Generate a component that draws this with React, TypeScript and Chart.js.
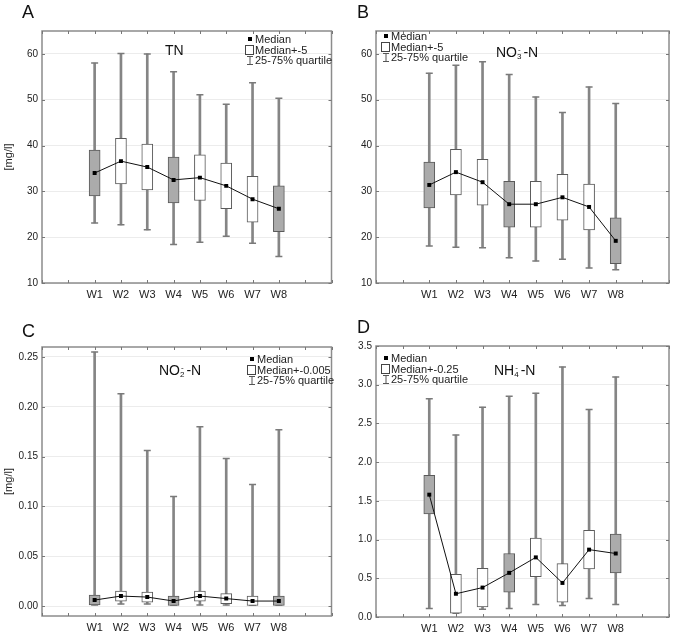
import React, { useEffect, useRef } from 'react';
import { Chart, registerables } from 'chart.js';

Chart.register(...registerables);

// ---------- data ----------
const categories = ['W1', 'W2', 'W3', 'W4', 'W5', 'W6', 'W7', 'W8'];
const shadedBoxes = [true, false, false, true, false, false, false, true];

// A: TN
const tnMedian = [34.0, 36.6, 35.3, 32.5, 33.0, 31.2, 28.3, 26.2];
const tnLow = [23.1, 22.7, 21.6, 18.4, 18.9, 20.2, 18.7, 15.8];
const tnHigh = [58.0, 60.1, 60.0, 56.1, 51.1, 49.0, 53.7, 50.3];
const tnHalfBox = 5;
const tnTicks = [10, 20, 30, 40, 50, 60];

// B: NO3-N
const no3Median = [31.4, 34.2, 32.0, 27.2, 27.2, 28.7, 26.6, 19.2];
const no3Low = [18.1, 17.8, 17.7, 15.5, 14.8, 15.2, 13.3, 12.9];
const no3High = [55.8, 57.5, 58.3, 55.5, 50.6, 47.2, 52.8, 49.2];
const no3HalfBox = 5;
const no3Ticks = [10, 20, 30, 40, 50, 60];

// C: NO2-N
const no2Median = [0.006, 0.010, 0.009, 0.005, 0.010, 0.0075, 0.005, 0.005];
const no2Low = [0.001, 0.002, 0.002, 0.001, 0.001, 0.001, 0.001, 0.001];
const no2High = [0.255, 0.213, 0.156, 0.110, 0.180, 0.148, 0.122, 0.177];
const no2HalfBox = 0.005;
const no2Ticks = [0, 0.05, 0.1, 0.15, 0.2, 0.25];

// D: NH4-N
const nh4Median = [1.58, 0.30, 0.38, 0.57, 0.77, 0.44, 0.87, 0.82];
const nh4Low = [0.11, 0.05, 0.10, 0.11, 0.16, 0.15, 0.24, 0.16];
const nh4High = [2.82, 2.35, 2.71, 2.85, 2.89, 3.23, 2.68, 3.10];
const nh4HalfBox = 0.25;
const nh4Ticks = [0, 0.5, 1.0, 1.5, 2.0, 2.5, 3.0, 3.5];

// ---------- helpers ----------
const pad = (arr: any[]) => [null, null, ...arr, null, null];
const xLabels = pad(categories).map((c) => (c === null ? '' : c));

const TEXT = '#222';
const FONT = 'Arial, "Liberation Sans", Helvetica, sans-serif';

const framePlugin = {
  id: 'frame',
  afterDraw(chart: any) {
    const { ctx, chartArea } = chart;
    const { left, right, top, bottom } = chartArea;
    const x = chart.scales.x;
    const y = chart.scales.y;
    ctx.save();
    ctx.strokeStyle = '#8c8c8c';
    ctx.lineWidth = 1.5;
    ctx.strokeRect(left, top, right - left, bottom - top);
    ctx.lineWidth = 1;
    ctx.strokeStyle = '#777';
    ctx.beginPath();
    x.ticks.forEach((_t: any, i: number) => {
      const px = Math.round(x.getPixelForTick(i)) + 0.5;
      ctx.moveTo(px, bottom);
      ctx.lineTo(px, bottom - 3);
      ctx.moveTo(px, top);
      ctx.lineTo(px, top + 3);
    });
    y.ticks.forEach((_t: any, i: number) => {
      const py = Math.round(y.getPixelForTick(i)) + 0.5;
      ctx.moveTo(left, py);
      ctx.lineTo(left + 3, py);
      ctx.moveTo(right, py);
      ctx.lineTo(right - 3, py);
    });
    ctx.stroke();
    ctx.restore();
  },
};

type PanelProps = {
  median: number[];
  low: number[];
  high: number[];
  half: number;
  ticks: number[];
  yMin: number;
  yMax: number;
  decimals: number;
  yTitle?: string;
  width: number;
  height: number;
  padTop: number;
  padRight: number;
  yAxisW: number;
  xAxisH: number;
};

function Panel(p: PanelProps) {
  const ref = useRef<HTMLCanvasElement | null>(null);
  useEffect(() => {
    if (!ref.current) return;
    const boxes = p.median.map((m) => [m - p.half, m + p.half]);
    const whiskers = p.low.map((l, i) => [l, p.high[i]]);
    const chart = new Chart(ref.current, {
      type: 'bar',
      data: {
        labels: xLabels,
        datasets: [
          {
            type: 'line',
            data: pad(p.median),
            borderColor: '#111',
            borderWidth: 1,
            pointStyle: 'rect',
            pointRadius: 2.8,
            pointBackgroundColor: '#000',
            pointBorderColor: '#000',
            pointBorderWidth: 0,
            spanGaps: false,
            order: 1,
          } as any,
          {
            type: 'bar',
            data: pad(boxes),
            backgroundColor: pad(shadedBoxes).map((s) => (s ? '#ababab' : '#ffffff')),
            borderColor: '#5a5a5a',
            borderWidth: 1,
            borderSkipped: false,
            barThickness: 11,
            grouped: false,
            order: 2,
          } as any,
          {
            type: 'line',
            data: pad(p.high),
            showLine: false,
            pointStyle: 'line',
            pointRadius: 3.5,
            pointBorderColor: '#7a7a7a',
            pointBorderWidth: 1.5,
            order: 3,
          } as any,
          {
            type: 'line',
            data: pad(p.low),
            showLine: false,
            pointStyle: 'line',
            pointRadius: 3.5,
            pointBorderColor: '#7a7a7a',
            pointBorderWidth: 1.5,
            order: 3,
          } as any,
          {
            type: 'bar',
            data: pad(whiskers),
            backgroundColor: '#858585',
            borderWidth: 0,
            barThickness: 2,
            grouped: false,
            order: 4,
          } as any,
        ],
      },
      options: {
        animation: false,
        responsive: false,
        maintainAspectRatio: false,
        layout: { padding: { top: p.padTop, right: p.padRight, left: 0, bottom: 0 } },
        plugins: { legend: { display: false }, tooltip: { enabled: false } },
        scales: {
          x: {
            type: 'category',
            offset: false,
            grid: { display: false, drawTicks: false },
            border: { display: false },
            ticks: {
              autoSkip: false,
              maxRotation: 0,
              padding: 5,
              color: TEXT,
              font: { family: FONT, size: 11 },
            },
            afterFit: (s: any) => {
              s.height = p.xAxisH;
            },
          },
          y: {
            type: 'linear',
            min: p.yMin,
            max: p.yMax,
            grid: { color: '#ececec', drawTicks: false, lineWidth: 1 },
            border: { display: false },
            ticks: {
              padding: 4,
              color: TEXT,
              font: { family: FONT, size: 10 },
              callback: (v: any) => Number(v).toFixed(p.decimals),
            },
            afterBuildTicks: (s: any) => {
              s.ticks = p.ticks.map((v) => ({ value: v }));
            },
            afterFit: (s: any) => {
              s.width = p.yAxisW;
            },
            title: {
              display: !!p.yTitle,
              text: p.yTitle || '',
              color: TEXT,
              font: { family: FONT, size: 11 },
              padding: { top: 2, bottom: 0 },
            },
          },
        },
      } as any,
      plugins: [framePlugin],
    });
    return () => chart.destroy();
  }, []);
  return (
    <canvas
      ref={ref}
      width={p.width}
      height={p.height}
      style={{ width: p.width, height: p.height, display: 'block' }}
    />
  );
}

function Stack({ sup, sub }: { sup: string; sub: string }) {
  return (
    <span
      style={{
        display: 'inline-flex',
        flexDirection: 'column',
        fontSize: 8,
        lineHeight: '7px',
        verticalAlign: '5px',
        margin: '0 2px 0 0',
        textAlign: 'center',
      }}
    >
      <span>{sup}</span>
      <span>{sub}</span>
    </span>
  );
}

function Legend({ left, top, boxText }: { left: number; top: number; boxText: string }) {
  const row: React.CSSProperties = {
    display: 'flex',
    alignItems: 'center',
    height: 10.5,
    whiteSpace: 'nowrap',
  };
  const icon: React.CSSProperties = {
    width: 9,
    display: 'flex',
    justifyContent: 'center',
    alignItems: 'center',
    marginRight: 1,
  };
  return (
    <div
      style={{
        position: 'absolute',
        left,
        top,
        fontFamily: FONT,
        fontSize: 11,
        color: TEXT,
        lineHeight: '10.5px',
      }}
    >
      <div style={row}>
        <span style={icon}>
          <span style={{ width: 4, height: 4, background: '#000', display: 'block' }} />
        </span>
        <span>Median</span>
      </div>
      <div style={row}>
        <span style={icon}>
          <span
            style={{
              width: 7,
              height: 8,
              border: '1px solid #444',
              background: '#fff',
              display: 'block',
            }}
          />
        </span>
        <span>{boxText}</span>
      </div>
      <div style={row}>
        <span style={icon}>
          <svg width="8" height="9" style={{ display: 'block' }}>
            <path d="M1 0.5 H7 M4 0.5 V8.5 M1 8.5 H7" stroke="#555" strokeWidth="1" fill="none" />
          </svg>
        </span>
        <span>25-75% quartile</span>
      </div>
    </div>
  );
}

const letterStyle: React.CSSProperties = {
  position: 'absolute',
  fontFamily: FONT,
  fontSize: 18,
  color: '#111',
  lineHeight: '18px',
};
const titleStyle: React.CSSProperties = {
  position: 'absolute',
  fontFamily: FONT,
  fontSize: 14,
  color: '#111',
  lineHeight: '14px',
  whiteSpace: 'nowrap',
};

export default function App() {
  return (
    <div
      style={{
        position: 'fixed',
        left: 0,
        top: 0,
        width: 675,
        height: 634,
        background: '#fff',
        overflow: 'hidden',
      }}
    >
      <div style={{ position: 'absolute', left: 0, top: 0 }}>
        <Panel
          median={tnMedian}
          low={tnLow}
          high={tnHigh}
          half={tnHalfBox}
          ticks={tnTicks}
          yMin={10}
          yMax={65}
          decimals={0}
          yTitle="[mg/l]"
          width={337}
          height={310}
          padTop={31}
          padRight={3}
          yAxisW={42}
          xAxisH={27}
        />
      </div>
      <div style={{ position: 'absolute', left: 337, top: 0 }}>
        <Panel
          median={no3Median}
          low={no3Low}
          high={no3High}
          half={no3HalfBox}
          ticks={no3Ticks}
          yMin={10}
          yMax={65}
          decimals={0}
          width={338}
          height={310}
          padTop={31}
          padRight={6}
          yAxisW={39}
          xAxisH={27}
        />
      </div>
      <div style={{ position: 'absolute', left: 0, top: 300 }}>
        <Panel
          median={no2Median}
          low={no2Low}
          high={no2High}
          half={no2HalfBox}
          ticks={no2Ticks}
          yMin={-0.01}
          yMax={0.26}
          decimals={2}
          yTitle="[mg/l]"
          width={337}
          height={334}
          padTop={47}
          padRight={3}
          yAxisW={42}
          xAxisH={18}
        />
      </div>
      <div style={{ position: 'absolute', left: 337, top: 300 }}>
        <Panel
          median={nh4Median}
          low={nh4Low}
          high={nh4High}
          half={nh4HalfBox}
          ticks={nh4Ticks}
          yMin={0}
          yMax={3.5}
          decimals={1}
          width={338}
          height={334}
          padTop={46}
          padRight={6}
          yAxisW={39}
          xAxisH={17}
        />
      </div>

      <div style={{ ...letterStyle, left: 22, top: 3 }}>A</div>
      <div style={{ ...letterStyle, left: 357, top: 3 }}>B</div>
      <div style={{ ...letterStyle, left: 22, top: 322 }}>C</div>
      <div style={{ ...letterStyle, left: 357, top: 318 }}>D</div>

      <div style={{ ...titleStyle, left: 165, top: 43 }}>TN</div>
      <div style={{ ...titleStyle, left: 496, top: 45 }}>
        NO<Stack sup="-" sub="3" />-N
      </div>
      <div style={{ ...titleStyle, left: 159, top: 363 }}>
        NO<Stack sup="-" sub="2" />-N
      </div>
      <div style={{ ...titleStyle, left: 494, top: 363 }}>
        NH<Stack sup="-" sub="4" />-N
      </div>

      <Legend left={245} top={34} boxText="Median+-5" />
      <Legend left={381} top={31} boxText="Median+-5" />
      <Legend left={247} top={354} boxText="Median+-0.005" />
      <Legend left={381} top={353} boxText="Median+-0.25" />
    </div>
  );
}
